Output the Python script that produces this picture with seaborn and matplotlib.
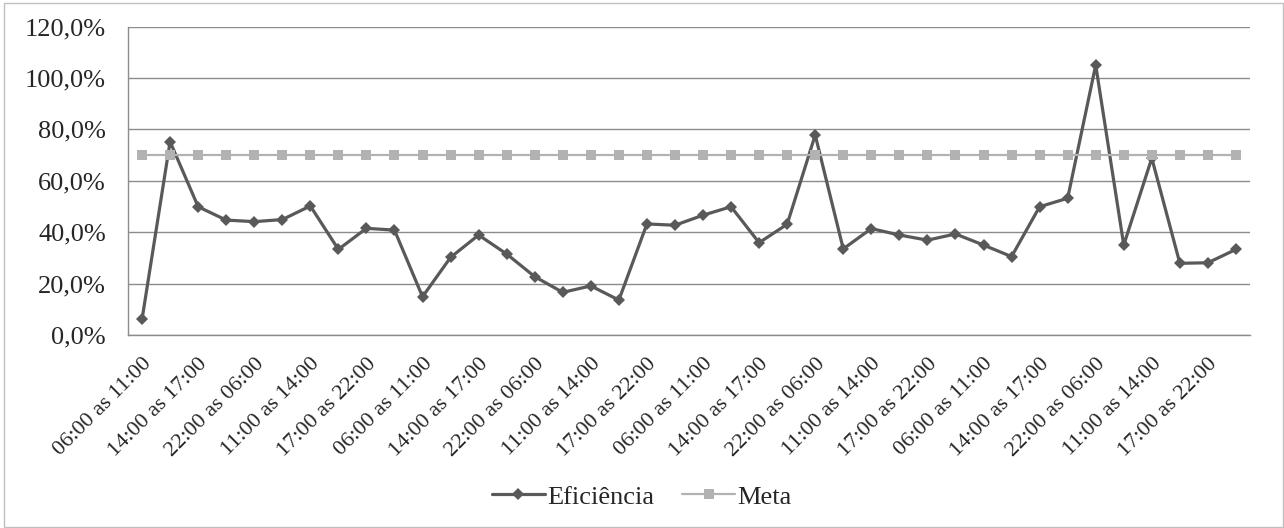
import numpy as np
import pandas as pd
import matplotlib
matplotlib.use('Agg')
import matplotlib.pyplot as plt
import seaborn as sns

# Shift labels (5 shifts per day, 8 days)
shifts = ['06:00 as 11:00', '11:00 as 14:00', '14:00 as 17:00',
          '17:00 as 22:00', '22:00 as 06:00']
labels = shifts * 8

# Efficiency per shift (%)
eficiencia = [6.1, 75.2, 49.9, 44.7, 44.1, 44.9, 50.2, 33.3, 41.5, 40.8,
              14.9, 30.2, 38.9, 31.5, 22.7, 16.6, 19.1, 13.6, 43.2, 42.7,
              46.6, 49.9, 35.9, 43.1, 77.8, 33.5, 41.4, 38.9, 36.9, 39.3,
              35.0, 30.5, 49.9, 53.2, 105.0, 35.0, 68.8, 27.9, 28.1, 33.3]

# Target (%)
meta = [70.0] * 40

df = pd.DataFrame({'pos': np.arange(len(labels)), 'turno': labels,
                   'Eficiência': eficiencia, 'Meta': meta})

sns.set_style('white')
plt.rcParams['font.family'] = ['Liberation Serif', 'DejaVu Serif']
fs = 19

fig = plt.figure(figsize=(12.84, 5.28), dpi=100)
ax = fig.add_axes([0.0997, 0.3655, 0.8738, 0.5843])

# Efficiency line (dark gray, diamonds)
sns.lineplot(x='pos', y='Eficiência', data=df, ax=ax, color='#595959',
             linewidth=2.3, marker='D', markersize=6.5, markeredgewidth=0,
             label='Eficiência', zorder=3)

# Target line (light gray, squares) drawn on top
sns.lineplot(x='pos', y='Meta', data=df, ax=ax, color='#b2b2b2',
             linewidth=1.6, marker='s', markersize=7.5, markeredgewidth=0,
             label='Meta', zorder=4)

ax.set_xlim(-0.5, len(labels) - 0.5)
ax.set_ylim(0, 120)
yt = np.arange(0, 121, 20)
ax.set_yticks(yt)
ax.set_yticklabels([f'{v:.1f}%'.replace('.', ',') for v in yt], fontsize=fs)
ax.yaxis.grid(True, color='#8c8c8c', linewidth=1)
ax.xaxis.grid(False)

ax.set_xticks(df['pos'][::2])
ax.set_xticklabels(df['turno'][::2], rotation=45, ha='right',
                   rotation_mode='anchor', fontsize=16)
ax.tick_params(axis='x', length=0, pad=14)
ax.tick_params(axis='y', length=0, pad=16)
ax.set_xlabel('')
ax.set_ylabel('')

for side in ['top', 'right']:
    ax.spines[side].set_visible(False)
for side in ['left', 'bottom']:
    ax.spines[side].set_color('#8c8c8c')
    ax.spines[side].set_linewidth(1)

ax.legend_.remove()
handles, leg_labels = ax.get_legend_handles_labels()
fig.legend(handles, leg_labels, loc='center', bbox_to_anchor=(0.5, 0.059),
           ncol=2, frameon=False, fontsize=fs, handlelength=2.0,
           handletextpad=0.1, columnspacing=1.05)

# Light border around the whole chart
fig.patches.append(plt.Rectangle((0.003, 0.002), 0.996, 0.992,
                                 transform=fig.transFigure, fill=False,
                                 edgecolor='#bfbfbf', linewidth=1))

fig.savefig('out.png', dpi=100)
